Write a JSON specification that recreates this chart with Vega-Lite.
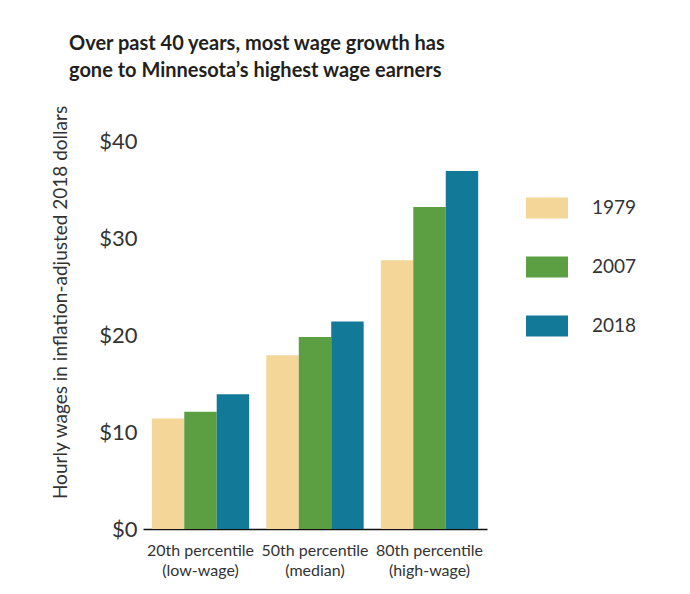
{
  "$schema": "https://vega.github.io/schema/vega-lite/v6.json",
  "autosize": "none",
  "width": 344,
  "height": 388,
  "padding": {"left": 143, "top": 141, "right": 203, "bottom": 65},
  "background": "white",
  "title": {
    "text": ["Over past 40 years, most wage growth has", "gone to Minnesota’s highest wage earners"],
    "anchor": "start",
    "frame": "group",
    "dx": -74,
    "offset": 24,
    "font": "Lato",
    "fontSize": 20,
    "fontWeight": "bold",
    "color": "#231F20",
    "lineHeight": 27
  },
  "data": {
    "values": [
      {"group": "20th percentile", "year": "1979", "wage": 11.4},
      {"group": "20th percentile", "year": "2007", "wage": 12.1},
      {"group": "20th percentile", "year": "2018", "wage": 13.9},
      {"group": "50th percentile", "year": "1979", "wage": 17.9},
      {"group": "50th percentile", "year": "2007", "wage": 19.8},
      {"group": "50th percentile", "year": "2018", "wage": 21.4},
      {"group": "80th percentile", "year": "1979", "wage": 27.7},
      {"group": "80th percentile", "year": "2007", "wage": 33.2},
      {"group": "80th percentile", "year": "2018", "wage": 36.9}
    ]
  },
  "mark": {"type": "bar"},
  "encoding": {
    "x": {
      "field": "group",
      "type": "nominal",
      "scale": {"paddingInner": 0.15, "paddingOuter": 0.077},
      "axis": {
        "title": null,
        "labelAngle": 0,
        "labelFont": "Lato",
        "labelFontSize": 16,
        "labelColor": "#333333",
        "labelPadding": 13,
        "labelLineHeight": 20,
        "labelBaseline": "top",
        "ticks": false,
        "domainColor": "#111111",
        "domainWidth": 1.5,
        "labelExpr": "datum.label == '20th percentile' ? ['20th percentile', '(low-wage)'] : datum.label == '50th percentile' ? ['50th percentile', '(median)'] : ['80th percentile', '(high-wage)']"
      }
    },
    "xOffset": {"field": "year", "type": "nominal", "scale": {"paddingInner": 0, "paddingOuter": 0}},
    "y": {
      "field": "wage",
      "type": "quantitative",
      "scale": {"domain": [0, 40]},
      "axis": {
        "title": "Hourly wages in inflation-adjusted 2018 dollars",
        "titleFont": "Lato",
        "titleFontSize": 19,
        "titleFontWeight": "normal",
        "titleColor": "#333333",
        "titleY": 161,
        "titlePadding": 28,
        "values": [0, 10, 20, 30, 40],
        "labelExpr": "'$' + datum.value",
        "labelFont": "Lato",
        "labelFontSize": 22,
        "labelColor": "#333333",
        "labelPadding": 6,
        "ticks": false,
        "domain": false,
        "grid": false
      }
    },
    "color": {
      "field": "year",
      "type": "nominal",
      "scale": {"domain": ["1979", "2007", "2018"], "range": ["#F3D698", "#5C9E42", "#137999"]},
      "legend": {
        "title": null,
        "orient": "none",
        "legendX": 383,
        "legendY": 46,
        "symbolType": "M-1,-0.5H1V0.5H-1Z",
        "symbolSize": 1764,
        "symbolStrokeWidth": 0,
        "labelFont": "Lato",
        "labelFontSize": 19,
        "labelColor": "#333333",
        "labelOffset": 24,
        "rowPadding": 27
      }
    }
  },
  "config": {"view": {"stroke": null}}
}
